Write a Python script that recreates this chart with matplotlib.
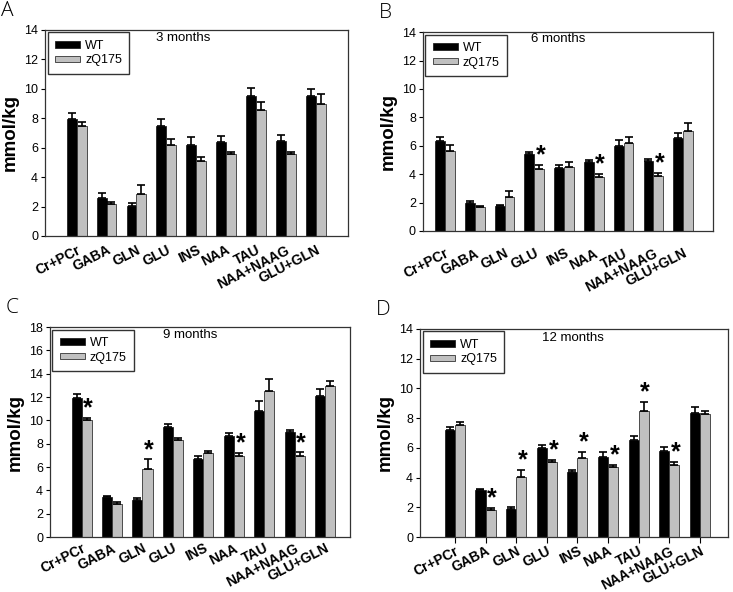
import numpy as np
import matplotlib.pyplot as plt

plt.rcParams['font.family'] = ['Liberation Sans', 'DejaVu Sans']

categories = ['Cr+PCr', 'GABA', 'GLN', 'GLU', 'INS', 'NAA', 'TAU', 'NAA+NAAG', 'GLU+GLN']

# 3 months
wt_3 = [7.93, 2.56, 2.06, 7.48, 6.21, 6.41, 9.51, 6.46, 9.49]
wt_3_err = [0.40, 0.34, 0.16, 0.45, 0.49, 0.41, 0.57, 0.43, 0.52]
zq_3 = [7.48, 2.17, 2.83, 6.16, 5.12, 5.55, 8.56, 5.55, 8.95]
zq_3_err = [0.27, 0.14, 0.61, 0.41, 0.27, 0.16, 0.54, 0.18, 0.72]
star_3 = []

# 6 months
wt_6 = [6.34, 2.00, 1.74, 5.45, 4.46, 4.84, 5.99, 4.96, 6.58]
wt_6_err = [0.26, 0.09, 0.12, 0.12, 0.17, 0.16, 0.38, 0.11, 0.35]
zq_6 = [5.66, 1.71, 2.42, 4.39, 4.49, 3.83, 6.22, 3.90, 7.05]
zq_6_err = [0.38, 0.05, 0.40, 0.24, 0.35, 0.16, 0.43, 0.21, 0.54]
star_6 = [3, 5, 7]

# 9 months
wt_9 = [11.95, 3.41, 3.21, 9.40, 6.68, 8.66, 10.81, 8.97, 12.10]
wt_9_err = [0.35, 0.14, 0.17, 0.29, 0.26, 0.28, 0.83, 0.23, 0.57]
zq_9 = [10.03, 2.81, 5.82, 8.31, 7.17, 6.91, 12.52, 6.94, 12.93]
zq_9_err = [0.20, 0.23, 0.83, 0.20, 0.17, 0.28, 1.01, 0.31, 0.45]
star_9 = [0, 2, 5, 7]

# 12 months
wt_12 = [7.22, 3.14, 1.88, 5.97, 4.35, 5.38, 6.55, 5.77, 8.37]
wt_12_err = [0.21, 0.07, 0.14, 0.22, 0.18, 0.34, 0.27, 0.31, 0.38]
zq_12 = [7.52, 1.84, 4.02, 5.05, 5.34, 4.69, 8.50, 4.87, 8.28]
zq_12_err = [0.24, 0.11, 0.51, 0.13, 0.36, 0.18, 0.59, 0.16, 0.20]
star_12 = [1, 2, 3, 4, 5, 6, 7]

# letter, title, data..., ymax, axes rect, xlim, title x, title y, label pad
panels = [
    ('A', '3 months', wt_3, wt_3_err, zq_3, zq_3_err, star_3, 14,
     [0.0614, 0.6014, 0.4134, 0.348], (-1.06, 9.08), 0.455, 0.961, 5),
    ('B', '6 months', wt_6, wt_6_err, zq_6, zq_6_err, star_6, 14,
     [0.577, 0.6098, 0.3956, 0.336], (-0.74, 9.0), 0.466, 0.965, 11),
    ('C', '9 months', wt_9, wt_9_err, zq_9, zq_9_err, star_9, 18,
     [0.0682, 0.0929, 0.4093, 0.3547], (-1.04, 8.82), 0.467, 0.962, 3),
    ('D', '12 months', wt_12, wt_12_err, zq_12, zq_12_err, star_12, 14,
     [0.573, 0.0929, 0.4202, 0.3514], (-1.14, 8.92), 0.497, 0.957, 1),
]

fig = plt.figure(figsize=(7.33, 5.92), dpi=100)
ind = np.arange(len(categories))
width = 0.33
ekw = dict(ecolor='black', elinewidth=1.2, capsize=3, capthick=1.2)

for letter, title, wt, wt_err, zq, zq_err, stars, ymax, pos, xl, tx, ty, lpad in panels:
    ax = fig.add_axes(pos)
    ax.bar(ind - width / 2, wt, width, color='black', edgecolor='#222222', linewidth=0.6,
           yerr=[np.zeros(len(wt)), wt_err], error_kw=ekw, label='WT')
    ax.bar(ind + width / 2, zq, width, color='#c0c0c0', edgecolor='#333333', linewidth=0.6,
           yerr=[np.zeros(len(zq)), zq_err], error_kw=ekw, label='zQ175')
    for i in stars:
        ax.text(ind[i] + width / 2 + 0.05, zq[i] + zq_err[i] - ymax * 0.012, '*', ha='center', va='bottom',
                fontsize=18, fontweight='bold')
    ax.set_xlim(*xl)
    ax.set_ylim(0, ymax)
    ax.set_yticks(np.arange(0, ymax + 1, 2))
    ax.tick_params(axis='y', labelsize=9, length=3, width=0.8, direction='out', pad=2)
    ax.set_xticks(ind)
    ax.set_xticklabels(categories, rotation=27, ha='right', rotation_mode='anchor',
                       fontsize=10, fontweight='bold')
    if letter == 'D':
        ax.tick_params(axis='x', length=4, width=0.8, direction='out', pad=lpad)
    else:
        ax.tick_params(axis='x', length=0, pad=lpad)
    ax.set_ylabel('mmol/kg', fontsize=13.5, fontweight='bold', labelpad=4)
    for s in ax.spines.values():
        s.set_linewidth(0.9)
        s.set_color('#333333')
    ax.text(tx, ty, title, transform=ax.transAxes, ha='center', va='center', fontsize=9.5)
    ax.legend(loc='upper left', fontsize=9, frameon=True, fancybox=False, edgecolor='black',
              handlelength=2.0, handleheight=0.45, handletextpad=0.4, borderpad=0.6,
              borderaxespad=0.2, labelspacing=0.2)
    fig.text(pos[0] - 0.06, pos[1] + pos[3] + 0.015, letter, fontsize=15, family='Open Sans',
             fontweight='light', ha='left', va='bottom')

fig.savefig('out.png', dpi=100)
